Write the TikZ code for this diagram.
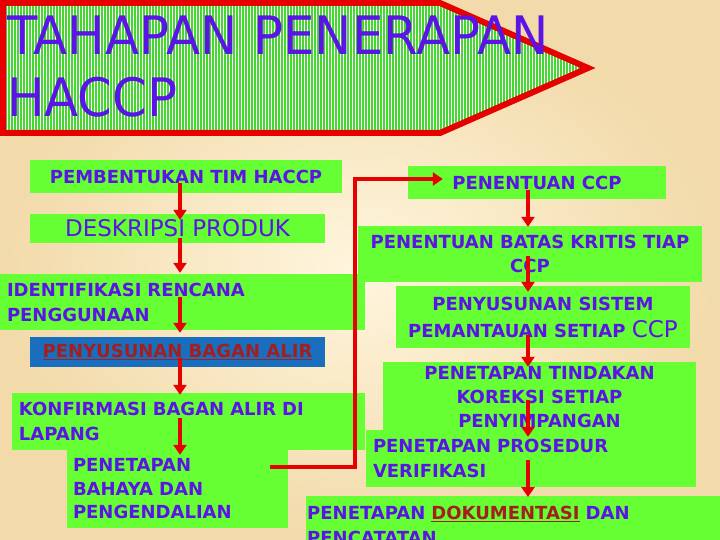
\documentclass[tikz,border=0pt]{standalone}
\usepackage{fontspec}
\setmainfont{DejaVu Sans}
\newfontfamily\titlefont[FakeStretch=0.94]{DejaVu Sans}
\usetikzlibrary{positioning, arrows.meta, calc, patterns.meta}
\definecolor{boxgreen}{RGB}{102,255,51}
\definecolor{stripegreen}{RGB}{70,215,50}
\definecolor{ink}{RGB}{90,20,230}
\definecolor{arrowred}{RGB}{230,0,0}
\definecolor{darkred}{RGB}{165,30,30}
\definecolor{flowblue}{RGB}{25,110,190}
\definecolor{paper}{RGB}{242,218,170}
\definecolor{paperlight}{RGB}{255,246,222}

\begin{document}
\begin{tikzpicture}[x=1pt, y=-1pt,
    stepbox/.style={fill=boxgreen, text=ink, inner sep=0pt, align=center,
        font=\bfseries\fontsize{18}{25}\selectfont},
    leftbox/.style={stepbox, align=left},
    titletext/.style={text=ink, inner sep=0pt, font=\titlefont\fontsize{53}{62}\selectfont},
    flow/.style={draw=arrowred, line width=4pt, -{Triangle[width=13pt,length=10pt]}}
]
\useasboundingbox (0,0) rectangle (720,540);
\clip (0,0) rectangle (720,540);
\shade[inner color=paperlight, outer color=paper] (0,0) rectangle (720,540);

% title arrow
\draw[draw=arrowred, line width=6pt, preaction={fill=white},
    pattern={Lines[angle=90, distance=3pt, line width=1.6pt]}, pattern color=stripegreen]
    (3,3) -- (440,3) -- (588,68) -- (440,133) -- (3,133) -- cycle;
\node[titletext, anchor=base west] (titleA) at (7,55) {TAHAPAN PENERAPAN};
\node[titletext, anchor=base west] (titleB) at (7,117) {HACCP};

% left column
\node[stepbox, minimum width=312pt, minimum height=33pt] (tim) at (186,176.5) {PEMBENTUKAN TIM HACCP};
\node[stepbox, minimum width=295pt, minimum height=29pt, font=\mdseries\fontsize{23}{27}\selectfont] (deskripsi) at (177.5,228.5) {DESKRIPSI PRODUK};
\node[leftbox, text width=351pt, inner xsep=7pt, minimum height=56pt] (identifikasi) at (182.5,302) {IDENTIFIKASI RENCANA\\PENGGUNAAN};
\node[stepbox, fill=flowblue, text=darkred, minimum width=295pt, minimum height=30pt] (bagan) at (177.5,352) {\underline{PENYUSUNAN BAGAN ALIR}};
\node[leftbox, text width=339pt, inner xsep=7pt, minimum height=57pt] (konfirmasi) at (188.5,421.5) {KONFIRMASI BAGAN ALIR DI\\LAPANG};
\node[leftbox, text width=209pt, inner xsep=6pt, minimum height=78pt, font=\bfseries\fontsize{18}{23.5}\selectfont] (bahaya) at (177.5,489) {PENETAPAN\\BAHAYA DAN\\PENGENDALIAN};

% right column
\node[stepbox, minimum width=258pt, minimum height=33pt] (ccp) at (537,182.5) {PENENTUAN CCP};
\node[stepbox, minimum width=344pt, minimum height=56pt, font=\bfseries\fontsize{18}{23.5}\selectfont] (batas) at (530,254) {PENENTUAN BATAS KRITIS TIAP\\CCP};
\node[stepbox, minimum width=294pt, minimum height=62pt, font=\bfseries\fontsize{18}{27}\selectfont] (pemantauan) at (543,317) {PENYUSUNAN SISTEM\\PEMANTAUAN SETIAP {\mdseries\fontsize{23}{27}\selectfont CCP}};
\node[stepbox, minimum width=313pt, minimum height=70pt, font=\bfseries\fontsize{18}{24}\selectfont] (koreksi) at (539.5,397) {PENETAPAN TINDAKAN\\KOREKSI SETIAP\\PENYIMPANGAN};
\node[leftbox, text width=316pt, inner xsep=7pt, minimum height=57pt] (verifikasi) at (531,458.5) {PENETAPAN PROSEDUR\\VERIFIKASI};
\node[leftbox, text width=412pt, inner xsep=1pt, minimum height=59pt, anchor=north west] (dokumentasi) at (306,496) {PENETAPAN {\color{darkred}\underline{DOKUMENTASI}} DAN\\PENCATATAN};

% arrows
\coordinate (lx) at (180,0);
\coordinate (rx) at (528,0);
\coordinate (bend) at (355,0);
\draw[flow] ($(tim.south -| lx)+(0pt,10pt)$) -- ($(deskripsi.north -| lx)+(0pt,-6pt)$);
\draw[flow] ($(deskripsi.south -| lx)+(0pt,5pt)$) -- ($(identifikasi.north -| lx)+(0pt,1pt)$);
\draw[flow] ($(identifikasi.south -| lx)+(0pt,33pt)$) -- ($(bagan.north -| lx)+(0pt,4pt)$);
\draw[flow] ($(bagan.south -| lx)+(0pt,9pt)$) -- ($(konfirmasi.north -| lx)+(0pt,-2pt)$);
\draw[flow] ($(konfirmasi.south -| lx)+(0pt,32pt)$) -- ($(bahaya.north -| lx)+(0pt,-5pt)$);
\coordinate (jumpA) at ($(bahaya.north east)+(-18pt,-17pt)$);
\coordinate (jumpB) at ($(ccp.west)+(35pt,3.5pt)$);
\draw[flow] (jumpA) -- (jumpA -| bend) |- (jumpB);
\draw[flow] ($(ccp.south -| rx)+(0pt,9pt)$) -- ($(batas.north -| rx)+(0pt,-1pt)$);
\draw[flow] ($(batas.south -| rx)+(0pt,26pt)$) -- ($(pemantauan.north -| rx)+(0pt,-6pt)$);
\draw[flow] ($(pemantauan.south -| rx)+(0pt,13pt)$) -- ($(koreksi.north -| rx)+(0pt,-5pt)$);
\draw[flow] ($(koreksi.south -| rx)+(0pt,32pt)$) -- ($(verifikasi.north -| rx)+(0pt,-7pt)$);
\draw[flow] ($(verifikasi.south -| rx)+(0pt,27pt)$) -- ($(dokumentasi.north -| rx)+(0pt,-1pt)$);
\end{tikzpicture}
\end{document}
